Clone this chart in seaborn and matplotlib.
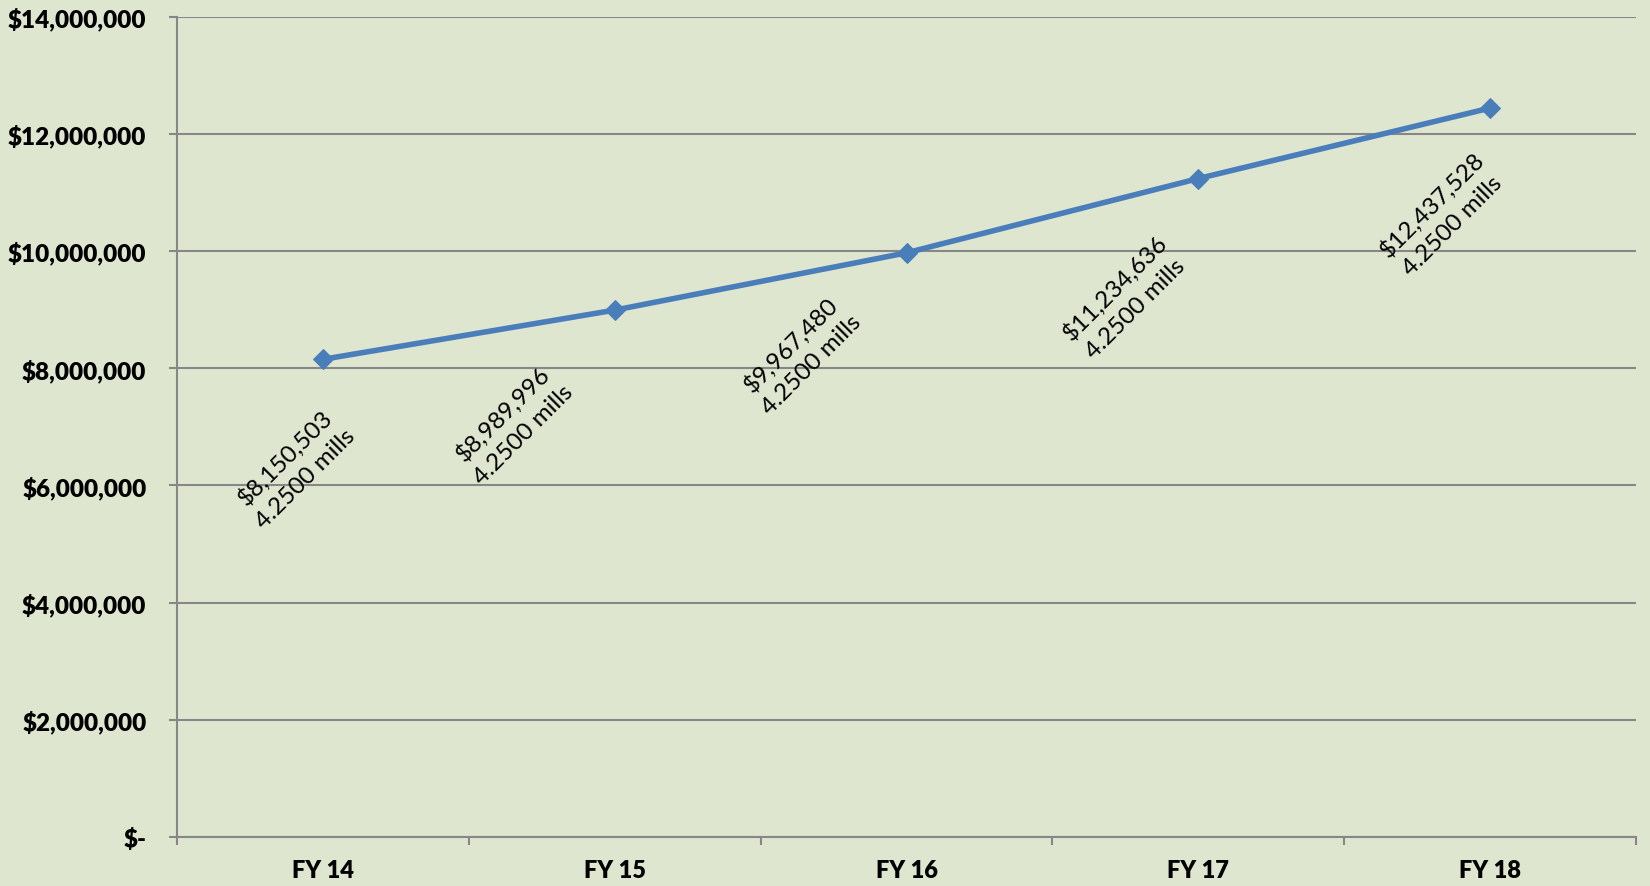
import matplotlib
matplotlib.use("Agg")
import matplotlib.pyplot as plt
from matplotlib.ticker import FixedLocator, FuncFormatter
import seaborn as sns
import pandas as pd

# ---- data ----
years = ["FY 14", "FY 15", "FY 16", "FY 17", "FY 18"]
revenue = [8150503, 8989996, 9967480, 11234636, 12437528]
mills = ["4.2500", "4.2500", "4.2500", "4.2500", "4.2500"]
y_ticks = [0, 2000000, 4000000, 6000000, 8000000, 10000000, 12000000, 14000000]

# label offsets in pixels (dx, dy downward) relative to each point
label_offsets = [(-28, 108), (-102, 113), (-106, 101), (-73, 119), (-48, 106)]

sns.set_theme(style="white")
plt.rcParams['font.family'] = ['Lato', 'DejaVu Sans']

BG = "#DFE6D0"
GRID = "#878787"
LINE = "#4A7EBB"

fig = plt.figure(figsize=(16.5, 8.87), dpi=100, facecolor=BG)
ax = fig.add_axes([177/1650, 1-838/887, (1636-177)/1650, (838-17.5)/887])
ax.set_facecolor(BG)

df = pd.DataFrame({"year": years, "revenue": revenue})
sns.lineplot(data=df, x="year", y="revenue", ax=ax, color=LINE, linewidth=4,
             marker="D", markersize=10, markeredgecolor=LINE, markerfacecolor=LINE,
             sort=False, zorder=5)

ax.set_xlim(-0.5, len(years) - 0.5)
ax.set_ylim(y_ticks[0], y_ticks[-1])
ax.set_xlabel("")
ax.set_ylabel("")

def fmt(v, pos):
    if v == 0:
        return "$-"
    return "${:,.0f}".format(v)

ax.yaxis.set_major_locator(FixedLocator(y_ticks))
ax.yaxis.set_major_formatter(FuncFormatter(fmt))
ax.grid(axis="y", color=GRID, linewidth=1.5)
ax.set_axisbelow(True)

ax.set_xticks(range(len(years)))
ax.set_xticklabels(years)
ax.set_xticks([i - 0.5 for i in range(len(years) + 1)], minor=True)

for s in ["top", "right"]:
    ax.spines[s].set_visible(False)
for s in ["left", "bottom"]:
    ax.spines[s].set_color(GRID)
    ax.spines[s].set_linewidth(1.5)

ax.tick_params(axis="y", which="major", length=6, width=1.5, color=GRID, pad=16,
               labelsize=17.5, left=True)
ax.tick_params(axis="x", which="major", length=0, pad=16, labelsize=17, bottom=True)
ax.tick_params(axis="x", which="minor", length=6, width=1.5, color=GRID, bottom=True)
for lab in ax.get_yticklabels() + ax.get_xticklabels():
    lab.set_fontweight("heavy")
    lab.set_color("black")

for i, (v, m) in enumerate(zip(revenue, mills)):
    dx, dy = label_offsets[i]
    ax.annotate("${:,.0f}\n{} mills".format(v, m), xy=(i, v),
                xytext=(dx * 0.72, -dy * 0.72), textcoords="offset points",
                ha="center", va="center", rotation=45, rotation_mode="anchor",
                fontsize=17.5, color="black", linespacing=1.45, multialignment="center")

fig.savefig("out.png", dpi=100, facecolor=BG)
